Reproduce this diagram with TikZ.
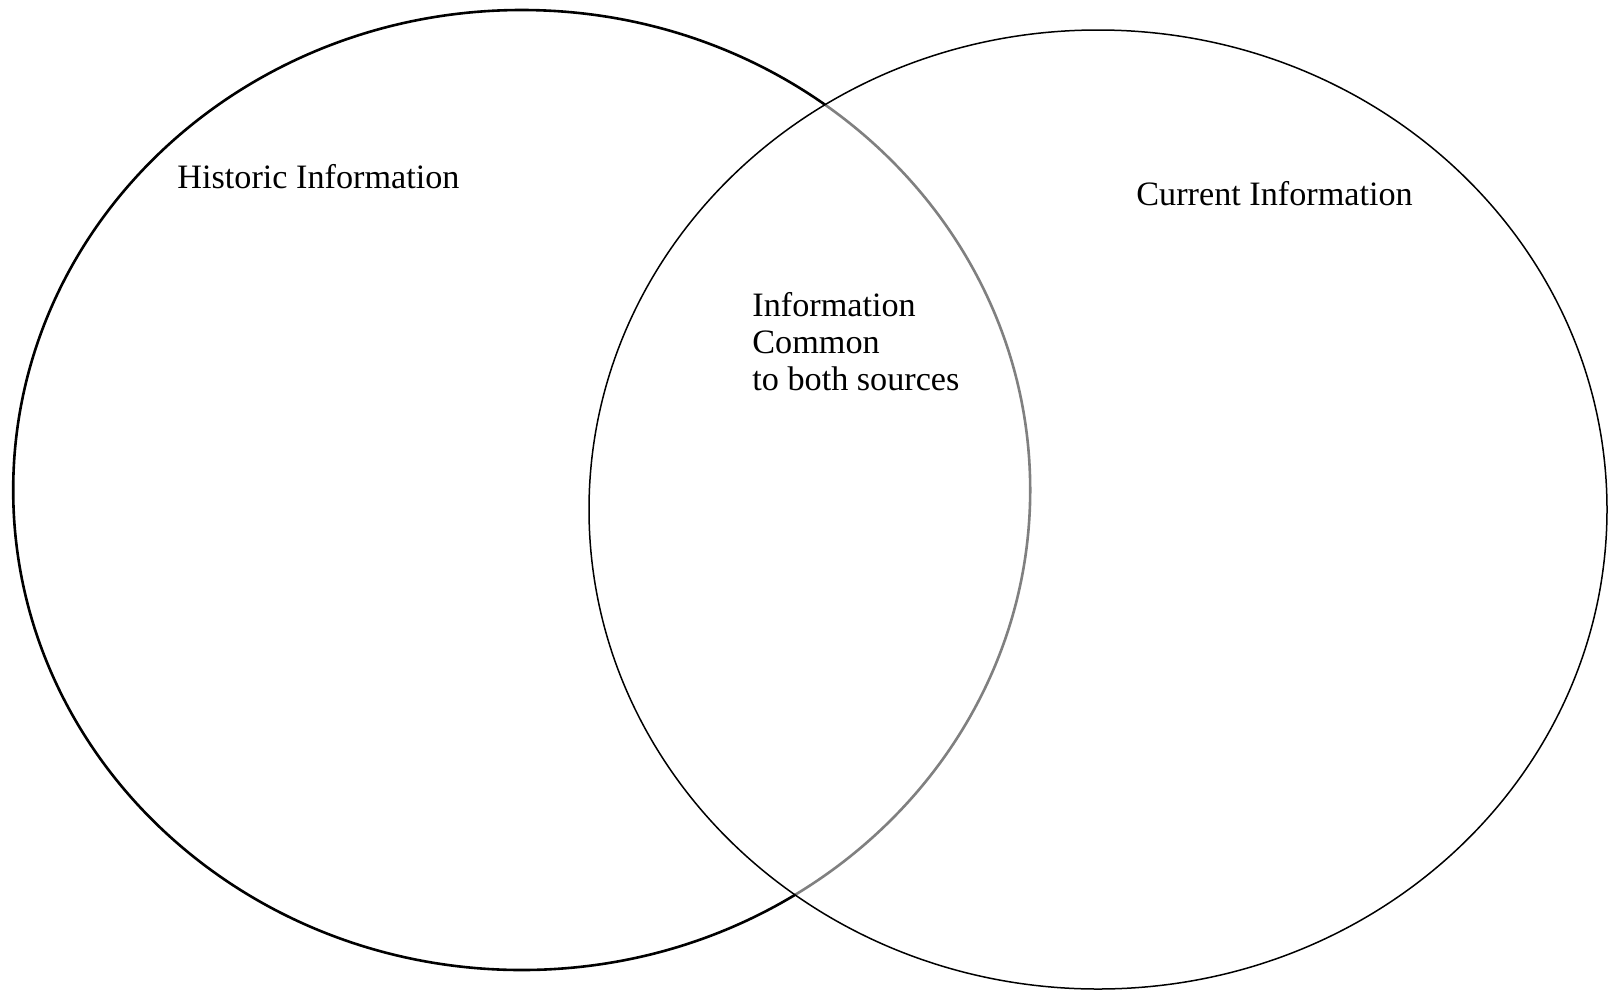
\documentclass[tikz,border=0pt]{standalone}
\usepackage{fontspec}
\setmainfont{Liberation Serif}
\begin{document}
\begin{tikzpicture}[x=0.5pt,y=-0.5pt,
  lbl/.style={anchor=base west,inner sep=0pt,font=\fontsize{17.1}{18.35}\selectfont,align=left}]
\useasboundingbox (0,0) rectangle (1612,992);
\fill[white] (0,0) rectangle (1612,992);
% left circle (Historic)
\draw[line width=1.3pt,black] (521.7,490) ellipse [x radius=508.5, y radius=480];
% right circle (Current) fades the overlapped arc
\fill[white,opacity=0.5] (1098,509.5) ellipse [x radius=509, y radius=479.5];
\draw[line width=0.75pt,black] (1098,509.5) ellipse [x radius=509, y radius=479.5];
\node[lbl] (hist) at (177,188) {Historic Information};
\node[lbl] (curr) at (1136,205.7) {Current Information};
\node[lbl] (comm) at (752,390) {Information\\Common\\to both sources};
\end{tikzpicture}
\end{document}
